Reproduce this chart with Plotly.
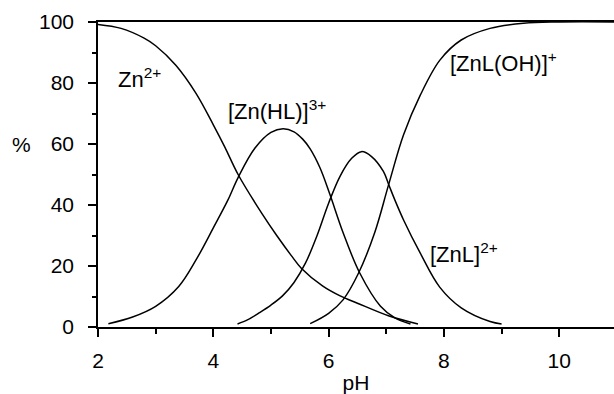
import plotly.graph_objects as go

# Species distribution of the Zn(II) / ligand system vs pH (% of total zinc)
ph_zn = [2.0, 2.4, 2.8, 3.0, 3.35, 3.7, 4.0, 4.2, 4.43, 4.85, 5.1, 5.35, 5.53, 5.9, 6.2, 6.5, 7.05, 7.55]
pct_zn = [99.2, 97.9, 94.7, 92.2, 85.8, 76.6, 66.3, 59.0, 50.0, 37.0, 30.0, 23.5, 19.2, 13.4, 10.2, 7.8, 3.6, 1.0]

ph_znhl = [2.18, 2.6, 3.0, 3.4, 3.7, 4.0, 4.25, 4.43, 4.72, 5.0, 5.21, 5.4, 5.55, 5.68, 5.85, 6.02, 6.25, 6.54, 6.9, 7.15, 7.42]
pct_znhl = [1.1, 3.3, 6.8, 13.3, 22.0, 32.5, 41.5, 49.0, 58.6, 63.8, 65.0, 64.0, 61.6, 58.4, 52.2, 43.6, 31.0, 17.7, 6.8, 3.0, 1.0]

ph_znl = [4.42, 4.6, 4.8, 5.0, 5.2, 5.4, 5.6, 5.8, 6.0, 6.2, 6.4, 6.57, 6.75, 6.95, 7.04, 7.15, 7.3, 7.59, 7.93, 8.3, 8.8, 9.0]
pct_znl = [1.0, 2.4, 4.7, 7.2, 10.2, 14.6, 21.0, 30.0, 40.6, 49.5, 55.3, 57.5, 55.8, 51.0, 46.8, 41.6, 35.1, 24.2, 13.0, 6.3, 1.8, 1.0]

ph_znloh = [5.68, 6.0, 6.25, 6.52, 6.8, 7.04, 7.3, 7.59, 7.93, 8.3, 8.8, 9.38, 10.0, 11.0]
pct_znloh = [1.1, 4.5, 8.9, 17.7, 31.0, 46.6, 63.0, 76.0, 87.5, 94.1, 97.9, 99.6, 100.0, 100.0]

x_ticks = [2, 4, 6, 8, 10]
x_minor = [3, 5, 7, 9]
y_ticks = [0, 20, 40, 60, 80, 100]
y_minor = [10, 30, 50, 70, 90]

FONT = "Liberation Sans, Arial, sans-serif"

fig = go.Figure()
for xs, ys in [(ph_zn, pct_zn), (ph_znhl, pct_znhl), (ph_znl, pct_znl), (ph_znloh, pct_znloh)]:
    fig.add_trace(go.Scatter(
        x=xs, y=ys, mode="lines",
        line=dict(color="black", width=1.5, shape="spline", smoothing=1.0),
        hoverinfo="skip",
    ))

labels = [
    (2.32, 81.5, "Zn<sup>2+</sup>"),
    (4.22, 71.0, "[Zn(HL)]<sup>3+</sup>"),
    (7.72, 24.2, "[ZnL]<sup>2+</sup>"),
    (8.07, 87.0, "[ZnL(OH)]<sup>+</sup>"),
]
for x, y, t in labels:
    fig.add_annotation(x=x, y=y, text=t, showarrow=False, xanchor="left", yanchor="middle",
                       font=dict(family=FONT, size=22, color="black"))

fig.add_annotation(xref="paper", yref="y", x=(21 - 98) / 516, y=60, text="%", showarrow=False,
                   xanchor="center", yanchor="middle", font=dict(family=FONT, size=21, color="black"))

axis_common = dict(
    showline=True, linecolor="black", linewidth=1.6,
    ticks="outside", ticklen=8, tickwidth=1.5, tickcolor="black",
    showgrid=False, zeroline=False,
    tickfont=dict(family=FONT, size=21, color="black"),
)

fig.update_layout(
    width=614, height=394,
    margin=dict(l=98, r=0, t=22, b=67),
    paper_bgcolor="white", plot_bgcolor="white",
    showlegend=False,
    xaxis=dict(
        range=[2, 10.95], tickvals=x_ticks, mirror=True,
        minor=dict(tickvals=x_minor, ticks="outside", ticklen=5, tickwidth=1.5, tickcolor="black"),
        title=dict(text="pH", font=dict(family=FONT, size=21, color="black"), standoff=4),
        ticklabelstandoff=6,
        **axis_common,
    ),
    yaxis=dict(
        range=[0, 100], tickvals=y_ticks,
        minor=dict(tickvals=y_minor, ticks="outside", ticklen=4, tickwidth=1.5, tickcolor="black"),
        ticklabelstandoff=10,
        **axis_common,
    ),
)

fig.write_html("out.html")
